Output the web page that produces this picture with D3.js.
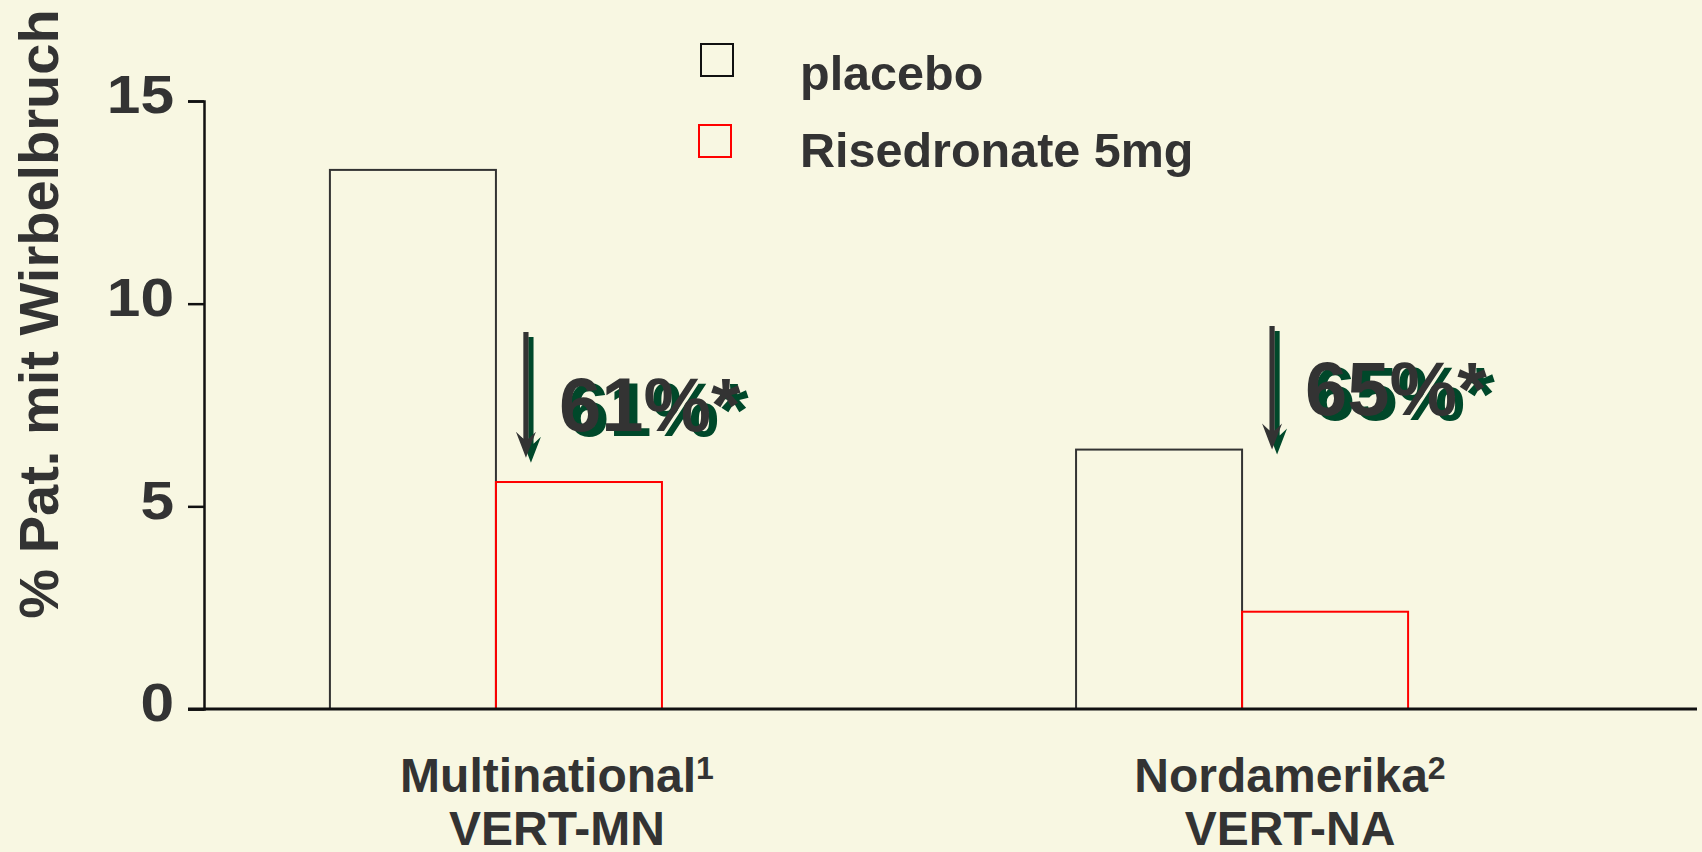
<!DOCTYPE html>
<html>
<head>
<meta charset="utf-8">
<script src="https://cdn.jsdelivr.net/npm/d3@7"></script>
<style>
  html, body { margin: 0; padding: 0; background: #f8f7e2; }
  svg { display: block; }
  text { font-family: "Liberation Sans", Arial, sans-serif; font-weight: bold; fill: #333333; }
</style>
</head>
<body>
<svg id="chart" width="1702" height="852"></svg>
<script>
// Studies (x categories) and their two-line labels
const categories = ["VERT-MN", "VERT-NA"];
const categoryNames = ["Multinational", "Nordamerika"];
const categoryRefs = ["1", "2"];

// Series
const seriesKeys = ["placebo", "risedronate"];
const seriesNames = ["placebo", "Risedronate 5mg"];
const placeboValues = [13.3, 6.4];
const risedronateValues = [5.6, 2.4];

// Y axis ticks
const yTicks = [0, 5, 10, 15];
const yTitle = "% Pat. mit Wirbelbruch";

// Relative risk reduction annotations (arrow from/to and label height in % units)
const reductionLabels = ["61%*", "65%*"];
const arrowFrom = [9.3, 9.45];
const arrowTo = [6.2, 6.4];
const labelAt = [6.85, 7.25];

const colors = { placebo: "#333333", risedronate: "#ff0000" };
const shadow = "#00482a";
const ink = "#333333";

const svg = d3.select("#chart");

const y = d3.scaleLinear().domain([0, 15]).range([709, 101]);
const x0 = d3.scaleBand().domain(categories).range([121, 1617])
  .paddingInner(0.555).paddingOuter(0.28);
const x1 = d3.scaleBand().domain(seriesKeys).range([0, x0.bandwidth()]);
const xLabel = d3.scalePoint().domain(categories).range([557, 1290]);

const rows = categories.map((c, i) => ({
  cat: c,
  values: [
    { key: "placebo", v: placeboValues[i] },
    { key: "risedronate", v: risedronateValues[i] }
  ]
}));

// Bars (outlined only)
const groups = svg.append("g").selectAll("g").data(rows).join("g")
  .attr("transform", d => `translate(${x0(d.cat)},0)`);
groups.selectAll("rect").data(d => d.values).join("rect")
  .attr("x", d => x1(d.key))
  .attr("y", d => y(d.v))
  .attr("width", x1.bandwidth())
  .attr("height", d => y(0) - y(d.v))
  .attr("fill", "none")
  .attr("stroke", d => colors[d.key])
  .attr("stroke-width", 2);

// Y axis
const yAxis = d3.axisLeft(y).tickValues(yTicks).tickSize(16).tickPadding(14).tickFormat(d3.format("d"));
const gy = svg.append("g").attr("transform", "translate(204,0)").call(yAxis);
gy.select(".domain").attr("stroke", "#111").attr("stroke-width", 2.5);
gy.selectAll(".tick line").attr("stroke", "#111").attr("stroke-width", 2.5);
// widened numerals, right-aligned against the tick marks
gy.selectAll(".tick text")
  .attr("font-size", 53).attr("font-family", null).attr("fill", ink)
  .attr("x", 0).attr("dy", "0.22em")
  .attr("transform", "translate(-30,0) scale(1.14,1)");

// X axis baseline
svg.append("line")
  .attr("x1", 188).attr("x2", 1697)
  .attr("y1", y(0)).attr("y2", y(0))
  .attr("stroke", "#111").attr("stroke-width", 3);

// Y title
svg.append("text")
  .attr("transform", "translate(58,314) rotate(-90)")
  .attr("text-anchor", "middle")
  .attr("font-size", 56)
  .text(yTitle);

// Category labels
const labels = svg.append("g").selectAll("text").data(categories).join("text")
  .attr("text-anchor", "middle")
  .attr("font-size", 48)
  .attr("x", d => xLabel(d))
  .attr("y", 792);
labels.append("tspan").text((d, i) => categoryNames[i]);
labels.append("tspan").attr("font-size", 32).attr("dy", -13).text((d, i) => categoryRefs[i]);
svg.append("g").selectAll("text").data(categories).join("text")
  .attr("text-anchor", "middle")
  .attr("font-size", 48)
  .attr("x", d => xLabel(d))
  .attr("y", 845)
  .text(d => d);

// Legend
const legend = svg.append("g").selectAll("g").data(seriesKeys).join("g")
  .attr("transform", (d, i) => `translate(701,${44 + i * 81})`);
legend.append("rect")
  .attr("x", (d, i) => -i * 2).attr("y", 0)
  .attr("width", 32).attr("height", 32)
  .attr("fill", "none")
  .attr("stroke", d => d === "placebo" ? "#111" : colors[d])
  .attr("stroke-width", 2);
legend.append("text")
  .attr("x", 99).attr("y", (d, i) => 46 - i * 4)
  .attr("font-size", 48.5)
  .text((d, i) => seriesNames[i]);

// Reduction arrows and labels, each with a dark green drop shadow
function arrowPath(top, tip) {
  const hw = 2.6, head = 26, wing = 10, notch = 19;
  return `M${-hw},${top} L${hw},${top} L${hw},${tip - notch} L${wing},${tip - head} L0,${tip} ` +
         `L${-wing},${tip - head} L${-hw},${tip - notch} Z`;
}
const ann = categories.map((c, i) => ({
  x: x0(c) + x1("risedronate") + 30,
  top: y(arrowFrom[i]),
  tip: y(arrowTo[i]),
  ly: y(labelAt[i]),
  label: reductionLabels[i]
}));
const annG = svg.append("g").selectAll("g").data(ann).join("g");
annG.append("path")
  .attr("transform", d => `translate(${d.x + 5},5)`)
  .attr("d", d => arrowPath(d.top, d.tip))
  .attr("fill", shadow);
annG.append("path")
  .attr("transform", d => `translate(${d.x},0)`)
  .attr("d", d => arrowPath(d.top, d.tip))
  .attr("fill", ink);
annG.append("text")
  .attr("x", d => d.x + 41).attr("y", d => d.ly + 5)
  .attr("font-size", 76)
  .style("fill", shadow)
  .text(d => d.label);
annG.append("text")
  .attr("x", d => d.x + 33).attr("y", d => d.ly)
  .attr("font-size", 76)
  .text(d => d.label);
</script>
</body>
</html>
